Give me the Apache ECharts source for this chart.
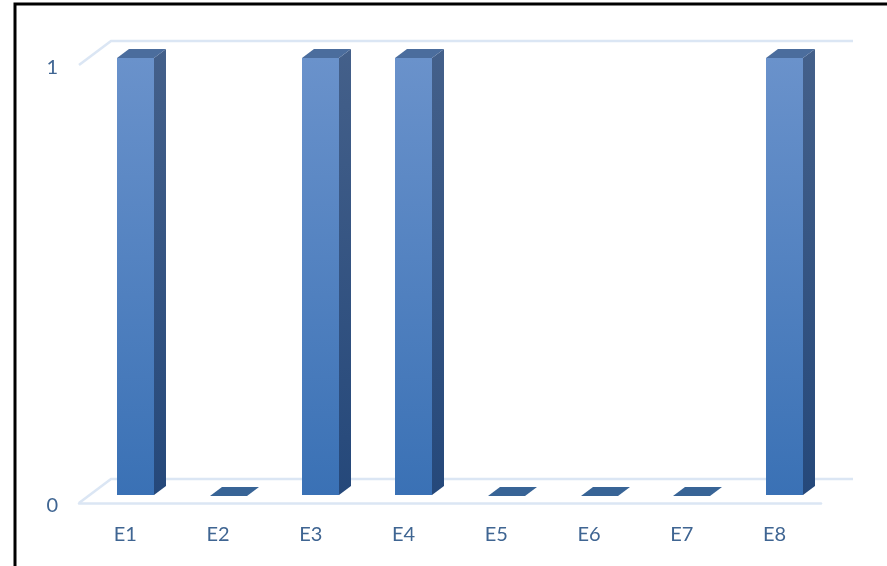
<!DOCTYPE html>
<html>
<head>
<meta charset="utf-8">
<style>html,body{margin:0;padding:0;background:#fff}#chart{width:887px;height:566px}</style>
<script src="https://cdn.jsdelivr.net/npm/echarts@6/dist/echarts.min.js"></script>
</head>
<body>
<div id="chart"></div>
<script>
const categories = ['E1', 'E2', 'E3', 'E4', 'E5', 'E6', 'E7', 'E8'];
const values = [1, 0, 1, 1, 0, 0, 0, 1];
const tickValues = [0, 1];

// Pseudo-3D geometry in pixels
const BAR_W = 37, DEPTH_X = 12, DEPTH_Y = 9;   // bar front width and extrusion
const SHIFT_X = 10, SHIFT_Y = 8;               // bars stand inside the floor
const WALL_X = 32, WALL_Y = 24;                // floor depth of the chart box

const vGrad = (a, b) => new echarts.graphic.LinearGradient(0, 0, 0, 1, [
  { offset: 0, color: a }, { offset: 1, color: b }
]);

function renderWall(params, api) {
  const y = api.coord([0, api.value(0)])[1];
  const cs = params.coordSys;
  const pts = [[cs.x, y], [cs.x + WALL_X, y - WALL_Y], [cs.x + cs.width + WALL_X, y - WALL_Y]];
  return {
    type: 'polyline',
    shape: { points: pts },
    style: { fill: null, stroke: '#DBE6F4', lineWidth: 2.5 }
  };
}

function renderBar(params, api) {
  const p = api.coord([api.value(0), api.value(1)]);
  const base = api.coord([api.value(0), 0]);
  const x0 = Math.round(p[0] + SHIFT_X - BAR_W / 2), x1 = x0 + BAR_W;
  const top = p[1] - SHIFT_Y + 1, bot = base[1] - SHIFT_Y;
  const flat = api.value(1) === 0;
  const children = [];
  if (!flat) {
    children.push({
      type: 'polygon',
      shape: { points: [[x1, top], [x1 + DEPTH_X, top - DEPTH_Y], [x1 + DEPTH_X, bot - DEPTH_Y], [x1, bot]] },
      style: { fill: vGrad('#44608A', '#25487A') }
    }, {
      type: 'rect',
      shape: { x: x0, y: top, width: BAR_W, height: bot - top },
      style: { fill: vGrad('#6A92CB', '#3A71B5') }
    });
  }
  children.push({
    type: 'polygon',
    shape: { points: [[x0, top], [x0 + DEPTH_X, top - DEPTH_Y], [x1 + DEPTH_X, top - DEPTH_Y], [x1, top]] },
    style: { fill: flat ? '#386496' : '#4B6D9D' }
  });
  return { type: 'group', children };
}

const textColor = '#3F6592';
const chart = echarts.init(document.getElementById('chart'), null, { renderer: 'canvas' });
chart.setOption({
  animation: false,
  backgroundColor: '#fff',
  grid: { left: 79, right: 66, top: 65, bottom: 63 },
  xAxis: {
    type: 'category',
    data: categories,
    axisTick: { show: false },
    axisLine: { show: true, lineStyle: { color: '#DBE6F4', width: 2.5 } },
    axisLabel: { color: textColor, fontFamily: 'Lato', fontSize: 20, margin: 22 }
  },
  yAxis: {
    type: 'value',
    min: 0, max: 1, interval: 1,
    axisLine: { show: false },
    axisTick: { show: false },
    splitLine: { show: false },
    axisLabel: {
      color: textColor, fontFamily: 'Lato', fontSize: 20, margin: 21,
      verticalAlign: 'top', lineHeight: 5
    }
  },
  graphic: [{
    type: 'polyline',
    silent: true,
    shape: { points: [[15, 566], [15, 4], [887, 4]] },
    style: { fill: null, stroke: '#000', lineWidth: 3 }
  }],
  series: [{
    type: 'custom',
    coordinateSystem: 'cartesian2d',
    renderItem: renderWall,
    data: tickValues.map(v => [v]),
    encode: { y: 0 },
    clip: false,
    z: 1,
    silent: true
  }, {
    type: 'custom',
    coordinateSystem: 'cartesian2d',
    renderItem: renderBar,
    data: values.map((v, i) => [i, v]),
    encode: { x: 0, y: 1 },
    clip: false,
    z: 5
  }]
});
</script>
</body>
</html>
